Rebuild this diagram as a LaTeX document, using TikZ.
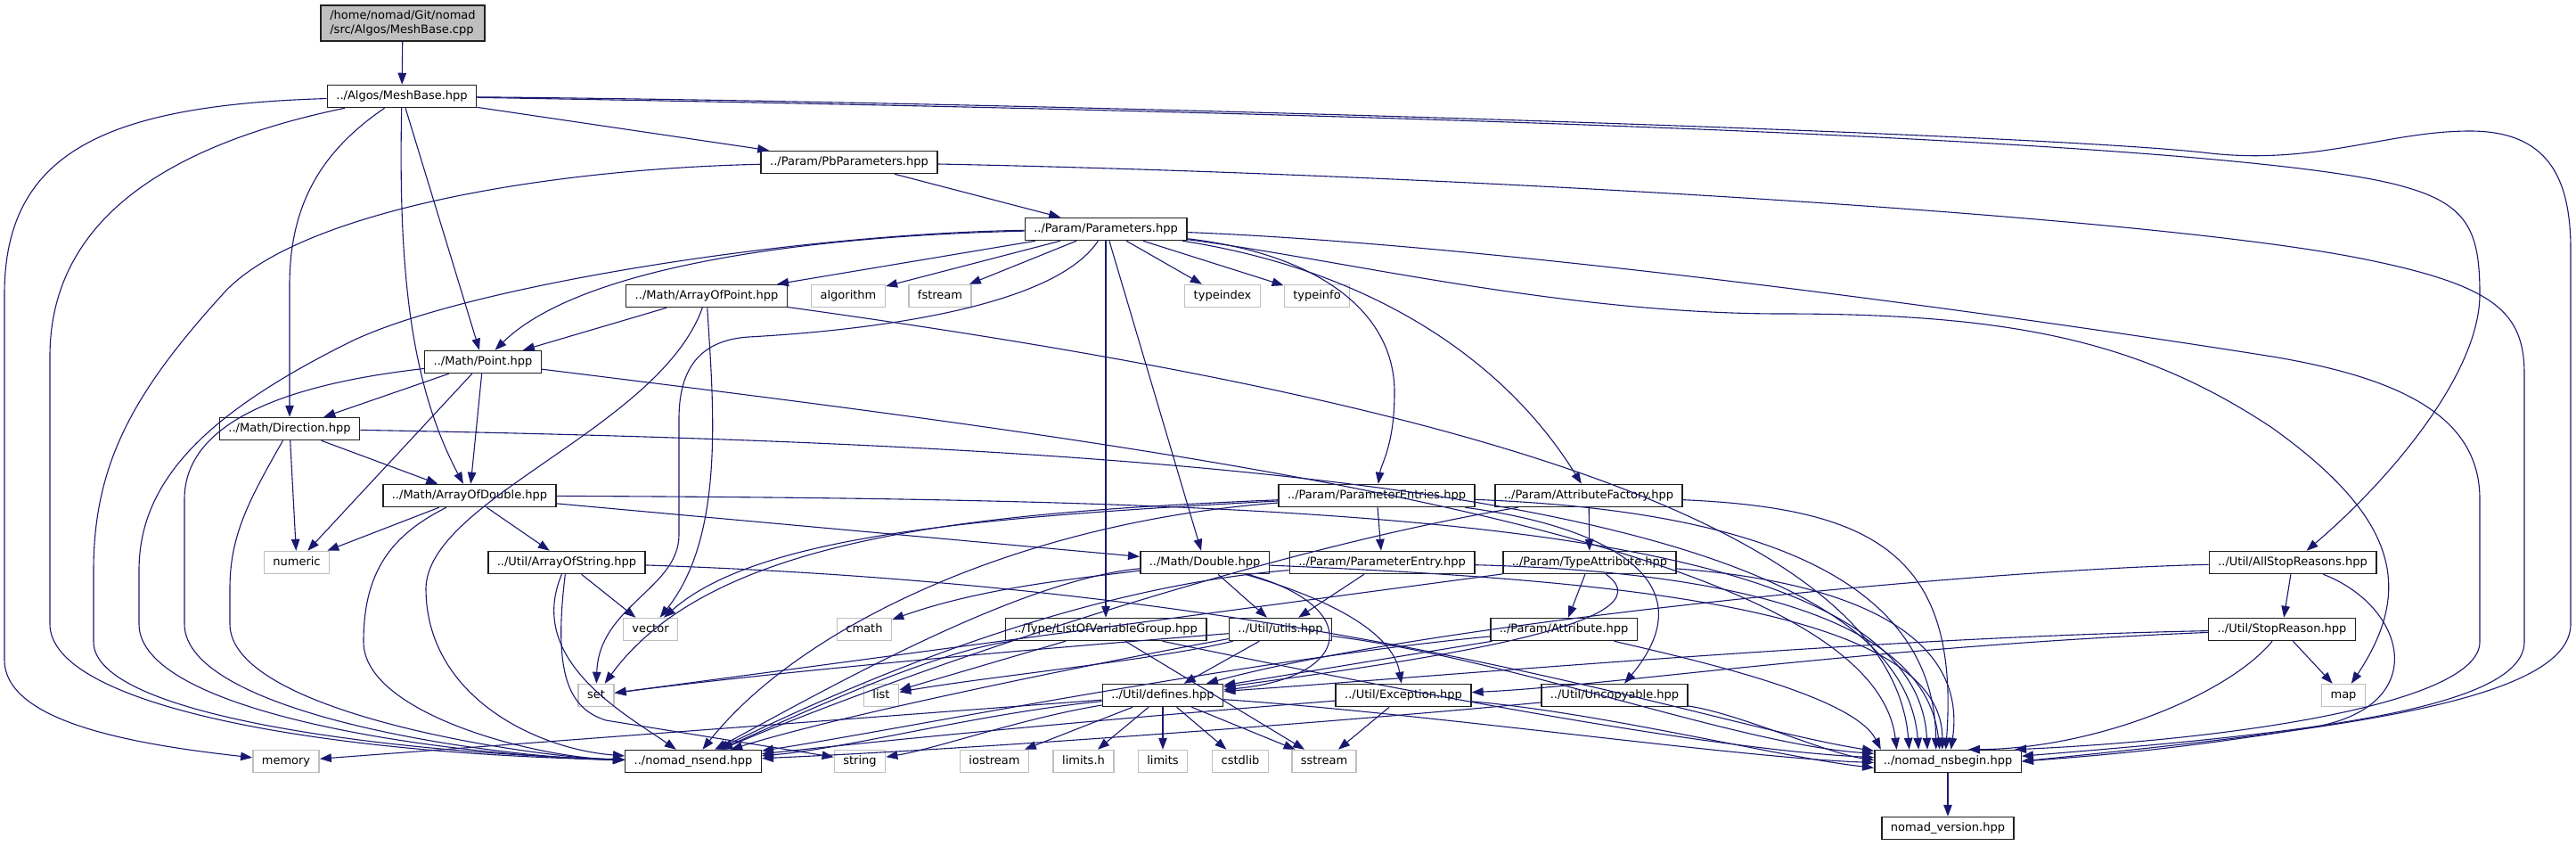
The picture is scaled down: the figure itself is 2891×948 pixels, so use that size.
\documentclass[tikz,border=0pt]{standalone}
\usepackage{fontspec}
\setmainfont{DejaVu Sans}
\usetikzlibrary{arrows.meta}
\definecolor{edgec}{HTML}{191970}
\definecolor{grayb}{HTML}{BFBFBF}
\definecolor{darkb}{HTML}{202020}
\tikzset{
  prj/.style={draw=darkb, fill=white, line width=1.5pt, minimum height=25pt, inner xsep=10pt, inner ysep=0pt, text height=9.6pt, text depth=2.8pt, font=\fontsize{13}{15}\selectfont},
  sys/.style={prj, draw=grayb},
  rootbox/.style={draw=darkb, fill=grayb, line width=1.5pt, minimum height=40pt, minimum width=184pt, inner xsep=10pt, inner ysep=2pt, align=left, font=\fontsize{13}{16}\selectfont},
  arr/.style={draw=edgec, line width=1.1pt, -{Triangle[length=13pt,width=9.5pt]}},
}
\begin{document}
\begin{tikzpicture}[x=1pt,y=-1pt]
\useasboundingbox (0,0) rectangle (2891,948);
% nodes
\node[rootbox] (cpp) at (452,26) {/home/nomad/Git/nomad\\/src/Algos/MeshBase.cpp};
\node[prj] (mbh) at (451,108) {../Algos/MeshBase.hpp};
\node[prj] (pbp) at (953,182) {../Param/PbParameters.hpp};
\node[prj] (par) at (1241,257) {../Param/Parameters.hpp};
\node[prj] (aop) at (793,332) {../Math/ArrayOfPoint.hpp};
\node[sys] (salgorithm) at (952,332) {algorithm};
\node[sys] (sfstream) at (1055,332) {fstream};
\node[sys] (stypeindex) at (1372,332) {typeindex};
\node[sys] (stypeinfo) at (1478,332) {typeinfo};
\node[prj] (pt) at (542,406) {../Math/Point.hpp};
\node[prj] (dir) at (325,481) {../Math/Direction.hpp};
\node[prj] (aod) at (527,556) {../Math/ArrayOfDouble.hpp};
\node[prj] (pes) at (1545,556) {../Param/ParameterEntries.hpp};
\node[prj] (af) at (1783,556) {../Param/AttributeFactory.hpp};
\node[sys] (snumeric) at (333,631) {numeric};
\node[prj] (aos) at (636,631) {../Util/ArrayOfString.hpp};
\node[prj] (dbl) at (1352,631) {../Math/Double.hpp};
\node[prj] (pe) at (1551,631) {../Param/ParameterEntry.hpp};
\node[prj] (ta) at (1784,631) {../Param/TypeAttribute.hpp};
\node[prj] (asr) at (2573,631) {../Util/AllStopReasons.hpp};
\node[sys] (svector) at (730,706) {vector};
\node[sys] (scmath) at (970,706) {cmath};
\node[prj] (lovg) at (1241,706) {../Type/ListOfVariableGroup.hpp};
\node[prj] (utils) at (1437,706) {../Util/utils.hpp};
\node[prj] (attr) at (1755,706) {../Param/Attribute.hpp};
\node[prj] (sr) at (2561,706) {../Util/StopReason.hpp};
\node[sys] (sset) at (669,780) {set};
\node[sys] (slist) at (989,780) {list};
\node[prj] (defines) at (1305,780) {../Util/defines.hpp};
\node[prj] (exc) at (1575,780) {../Util/Exception.hpp};
\node[prj] (unc) at (1812,780) {../Util/Uncopyable.hpp};
\node[sys] (smap) at (2630,780) {map};
\node[sys] (smemory) at (321,854) {memory};
\node[prj] (nsend) at (778,854) {../nomad\_nsend.hpp};
\node[sys] (sstring) at (965,854) {string};
\node[sys] (siostream) at (1116,854) {iostream};
\node[sys] (slimitsh) at (1216,854) {limits.h};
\node[sys] (slimits) at (1305,854) {limits};
\node[sys] (scstdlib) at (1392,854) {cstdlib};
\node[sys] (ssstream) at (1486,854) {sstream};
\node[prj] (nsbegin) at (2186,854) {../nomad\_nsbegin.hpp};
\node[prj] (version) at (2186,929) {nomad\_version.hpp};
% edges
\draw[arr] (cpp) -- (mbh);
\draw[arr] (mbh) .. controls (120,118) and (5,170) .. (5,330) -- (5,740) .. controls (5,810) and (150,835) .. (smemory);
\draw[arr] (mbh) .. controls (200,160) and (56,240) .. (56,400) -- (56,700) .. controls (56,790) and (350,845) .. (nsend);
\draw[arr] (mbh) .. controls (360,170) and (325,230) .. (325,320) -- (dir);
\draw[arr] (mbh) .. controls (447,300) and (460,430) .. (aod);
\draw[arr] (mbh) -- (pt);
\draw[arr] (mbh) -- (pbp);
\draw[arr] (mbh) .. controls (1200,115) and (2300,150) .. (2481,172) .. controls (2600,185) and (2680,147) .. (2772,147) .. controls (2860,147) and (2885,200) .. (2885,280) -- (2885,700) .. controls (2885,790) and (2600,820) .. (nsbegin.east);
\draw[arr] (mbh) .. controls (1300,122) and (2500,150) .. (2700,210) .. controls (2770,230) and (2783,260) .. (2783,330) .. controls (2783,420) and (2680,540) .. (asr);
\draw[arr] (pbp) -- (par);
\draw[arr] (pbp) .. controls (600,190) and (330,240) .. (250,330) .. controls (150,440) and (105,520) .. (105,640) -- (105,720) .. controls (105,805) and (450,845) .. (nsend);
\draw[arr] (pbp) .. controls (1600,195) and (2400,240) .. (2650,290) .. controls (2800,320) and (2833,350) .. (2833,420) -- (2833,720) .. controls (2833,800) and (2550,825) .. (nsbegin.4);
\draw[arr] (par) -- (aop);
\draw[arr] (par) -- (salgorithm);
\draw[arr] (par) -- (sfstream);
\draw[arr] (par) -- (stypeindex);
\draw[arr] (par) -- (stypeinfo);
\draw[arr] (par) .. controls (900,265) and (650,300) .. (pt);
\draw[arr] (par) .. controls (900,262) and (520,320) .. (390,385) .. controls (230,465) and (156,540) .. (156,640) -- (156,700) .. controls (156,800) and (500,848) .. (nsend);
\draw[arr] (par) .. controls (1180,350) and (950,372) .. (840,378) .. controls (780,382) and (762,420) .. (762,470) -- (762,600) .. controls (762,660) and (672,680) .. (sset);
\draw[arr] (par) -- (lovg);
\draw[arr] (par) -- (dbl);
\draw[arr] (par) .. controls (1480,285) and (1565,350) .. (1565,440) .. controls (1565,500) and (1550,520) .. (pes);
\draw[arr] (par) .. controls (1520,300) and (1680,390) .. (af);
\draw[arr] (par) .. controls (1700,275) and (2300,360) .. (2550,400) .. controls (2700,425) and (2783,470) .. (2783,560) -- (2783,720) .. controls (2783,790) and (2500,830) .. (nsbegin.10);
\draw[arr] (par) .. controls (1500,290) and (1750,352) .. (2000,352) .. controls (2250,352) and (2400,380) .. (2550,480) .. controls (2690,580) and (2710,660) .. (smap);
\draw[arr] (aop) -- (pt);
\draw[arr] (aop) .. controls (800,450) and (815,600) .. (svector);
\draw[arr] (aop) .. controls (740,480) and (480,560) .. (478,660) .. controls (478,780) and (600,840) .. (nsend);
\draw[arr] (aop) .. controls (1500,430) and (2120,560) .. (nsbegin.163);
\draw[arr] (pt) -- (dir);
\draw[arr] (pt) -- (aod);
\draw[arr] (pt) -- (snumeric);
\draw[arr] (pt) .. controls (330,430) and (207,470) .. (207,560) -- (207,700) .. controls (207,800) and (550,850) .. (nsend);
\draw[arr] (pt) .. controls (1300,500) and (2100,600) .. (nsbegin.167);
\draw[arr] (dir) -- (aod);
\draw[arr] (dir) -- (snumeric);
\draw[arr] (dir) .. controls (280,560) and (258,600) .. (258,660) -- (258,700) .. controls (258,800) and (600,850) .. (nsend);
\draw[arr] (dir) .. controls (1400,500) and (2130,560) .. (nsbegin.158);
\draw[arr] (aod) -- (snumeric);
\draw[arr] (aod) -- (aos);
\draw[arr] (aod) -- (dbl);
\draw[arr] (aod) .. controls (440,600) and (408,640) .. (408,720) .. controls (408,800) and (600,850) .. (nsend);
\draw[arr] (aod) .. controls (1500,560) and (2150,580) .. (nsbegin.150);
\draw[arr] (aos) -- (svector);
\draw[arr] (aos) .. controls (590,740) and (700,800) .. (nsend);
\draw[arr] (aos) .. controls (620,760) and (640,795) .. (680,808) -- (sstring);
\draw[arr] (aos) .. controls (1500,660) and (1900,810) .. (nsbegin.172);
\draw[arr] (dbl) .. controls (1200,650) and (1100,660) .. (scmath);
\draw[arr] (dbl) -- (utils);
\draw[arr] (dbl) .. controls (1530,680) and (1520,760) .. (defines);
\draw[arr] (dbl) .. controls (1520,680) and (1565,720) .. (exc);
\draw[arr] (dbl) .. controls (1150,650) and (950,760) .. (nsend);
\draw[arr] (dbl) .. controls (1800,650) and (2180,680) .. (nsbegin.115);
\draw[arr] (pes) -- (pe);
\draw[arr] (pes) .. controls (1100,580) and (850,600) .. (svector);
\draw[arr] (pes) .. controls (1100,575) and (800,600) .. (sset);
\draw[arr] (pes) .. controls (1150,585) and (900,700) .. (nsend);
\draw[arr] (pes) .. controls (1800,590) and (1920,650) .. (unc);
\draw[arr] (pes) .. controls (1900,570) and (2170,620) .. (nsbegin.135);
\draw[arr] (af) -- (ta);
\draw[arr] (af) .. controls (1400,620) and (1000,760) .. (nsend);
\draw[arr] (af) .. controls (2100,570) and (2200,620) .. (nsbegin.100);
\draw[arr] (pe) -- (utils);
\draw[arr] (pe) .. controls (1200,660) and (950,770) .. (nsend);
\draw[arr] (pe) .. controls (1900,640) and (2160,680) .. (nsbegin.125);
\draw[arr] (ta) -- (attr);
\draw[arr] (ta) .. controls (1880,700) and (1600,740) .. (defines);
\draw[arr] (ta) -- (sset);
\draw[arr] (ta) .. controls (2050,650) and (2210,700) .. (nsbegin.75);
\draw[arr] (asr) -- (sr);
\draw[arr] (asr) .. controls (2200,640) and (1600,700) .. (defines);
\draw[arr] (asr) .. controls (2700,680) and (2730,790) .. (2600,815) .. controls (2450,840) and (2350,848) .. (nsbegin.east);
\draw[arr] (lovg) -- (slist);
\draw[arr] (lovg) .. controls (1050,730) and (900,800) .. (nsend);
\draw[arr] (lovg) -- (ssstream);
\draw[arr] (lovg) .. controls (1500,760) and (1900,840) .. (nsbegin.177);
\draw[arr] (utils) -- (defines);
\draw[arr] (utils) .. controls (1300,740) and (1100,760) .. (slist);
\draw[arr] (utils) .. controls (1200,725) and (900,750) .. (sset);
\draw[arr] (utils) .. controls (1250,740) and (950,800) .. (nsend);
\draw[arr] (utils) .. controls (1700,740) and (1950,835) .. (nsbegin.174);
\draw[arr] (attr) -- (defines);
\draw[arr] (attr) .. controls (1400,740) and (1000,820) .. (nsend);
\draw[arr] (attr) .. controls (1900,740) and (2080,780) .. (nsbegin.170);
\draw[arr] (sr) -- (smap);
\draw[arr] (sr) .. controls (2100,715) and (1600,760) .. (defines);
\draw[arr] (sr) .. controls (2100,725) and (1800,770) .. (exc);
\draw[arr] (sr) .. controls (2500,780) and (2350,840) .. (nsbegin.30);
\draw[arr] (defines) .. controls (1100,800) and (950,840) .. (nsend);
\draw[arr] (defines) -- (smemory);
\draw[arr] (defines) .. controls (1150,805) and (1050,840) .. (sstring);
\draw[arr] (defines) -- (siostream);
\draw[arr] (defines) -- (slimitsh);
\draw[arr] (defines) -- (slimits);
\draw[arr] (defines) -- (scstdlib);
\draw[arr] (defines) -- (ssstream);
\draw[arr] (defines) .. controls (1600,800) and (1950,850) .. (nsbegin.181);
\draw[arr] (exc) -- (ssstream);
\draw[arr] (exc) .. controls (1200,810) and (1000,830) .. (nsend);
\draw[arr] (exc) .. controls (1800,800) and (2000,850) .. (nsbegin.185);
\draw[arr] (unc) .. controls (1500,810) and (1100,840) .. (nsend);
\draw[arr] (unc) .. controls (1950,800) and (2050,845) .. (nsbegin.179);
\draw[arr] (nsbegin) -- (version);
\end{tikzpicture}
\end{document}
